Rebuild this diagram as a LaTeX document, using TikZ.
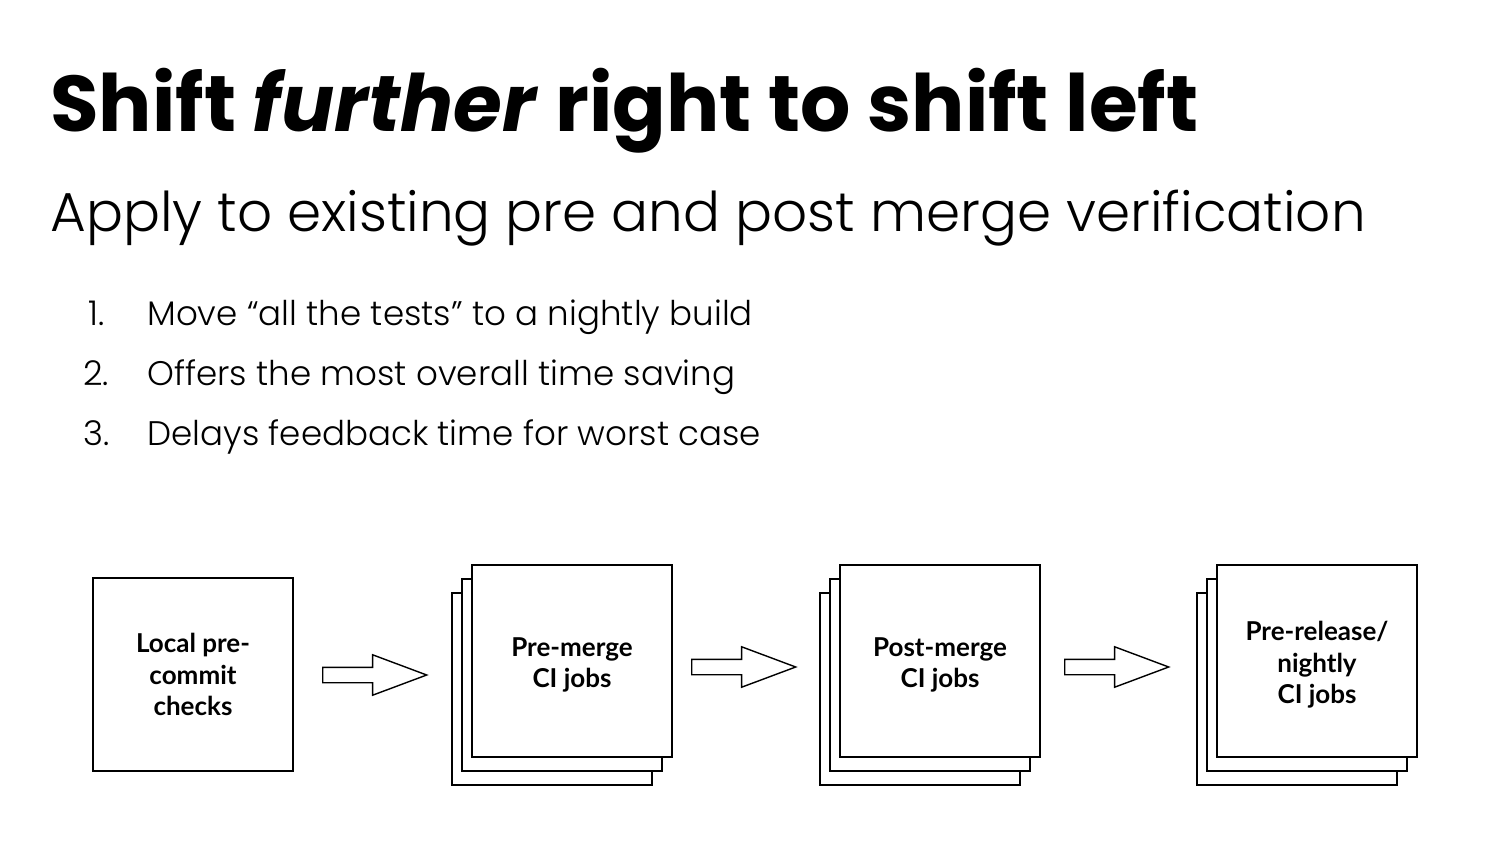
\documentclass[tikz,border=0pt]{standalone}
\usepackage{fontspec}
\setmainfont{Poppins}
\newfontfamily\lightfont{Poppins Light}
\newfontfamily\boxfont{Lato}
\usetikzlibrary{shapes.arrows}

\begin{document}
\begin{tikzpicture}[
  x=0.02cm, y=-0.02cm,
  headline/.style={anchor=base west, inner sep=0pt, font=\fontsize{45}{50}\selectfont\bfseries},
  subline/.style={anchor=base west, inner sep=0pt, font=\lightfont\fontsize{31.2}{38}\selectfont},
  item/.style={anchor=base west, inner sep=0pt, font=\lightfont\fontsize{19.4}{24}\selectfont},
  stagebox/.style={draw, line width=1.1pt, fill=white, minimum width=4cm, minimum height=3.84cm,
                   align=center, font=\boxfont\bfseries\fontsize{14.8}{17.9}\selectfont},
  blockarrow/.style={draw, line width=0.8pt, single arrow, single arrow head extend=0.25cm,
                     single arrow tip angle=41, minimum height=2.08cm, minimum width=0.78cm,
                     inner xsep=0pt, inner ysep=0.14cm, anchor=tail}
]
\useasboundingbox (0,0) rectangle (1500,844);

% heading
\node[headline] (title) at (50,132) {Shift \textit{further} right to shift left};
\node[subline] (subtitle) at (50,232) {Apply to existing pre and post merge verification};

% list
\node[item] (n1) at (88,325) {1.};
\node[item] (n2) at (83,385) {2.};
\node[item] (n3) at (83,445) {3.};
\node[item] (t1) at (147,325) {Move “all the tests” to a nightly build};
\node[item] (t2) at (147,385) {Offers the most overall time saving};
\node[item] (t3) at (147,445) {Delays feedback time for worst case};

% stages
\node[stagebox, minimum height=3.86cm] (local) at (193,674.5) {Local pre-\\commit\\checks};

\node[stagebox] (premergeC) at (552,689) {};
\node[stagebox] (premergeB) at (562,675) {};
\node[stagebox] (premerge) at (572,661) {\\[-2.5pt]Pre-merge\\CI jobs};

\node[stagebox] (postmergeC) at (920,689) {};
\node[stagebox] (postmergeB) at (930,675) {};
\node[stagebox] (postmerge) at (940,661) {\\[-2.5pt]Post-merge\\CI jobs};

\node[stagebox] (nightlyC) at (1297,689) {};
\node[stagebox] (nightlyB) at (1307,675) {};
\node[stagebox] (nightly) at (1317,661) {\\[-2.5pt]Pre-release/\\nightly\\CI jobs};

% arrows
\node[blockarrow] (a1) at (322,675) {};
\node[blockarrow] (a2) at (691,667) {};
\node[blockarrow] (a3) at (1064,667) {};
\end{tikzpicture}
\end{document}
